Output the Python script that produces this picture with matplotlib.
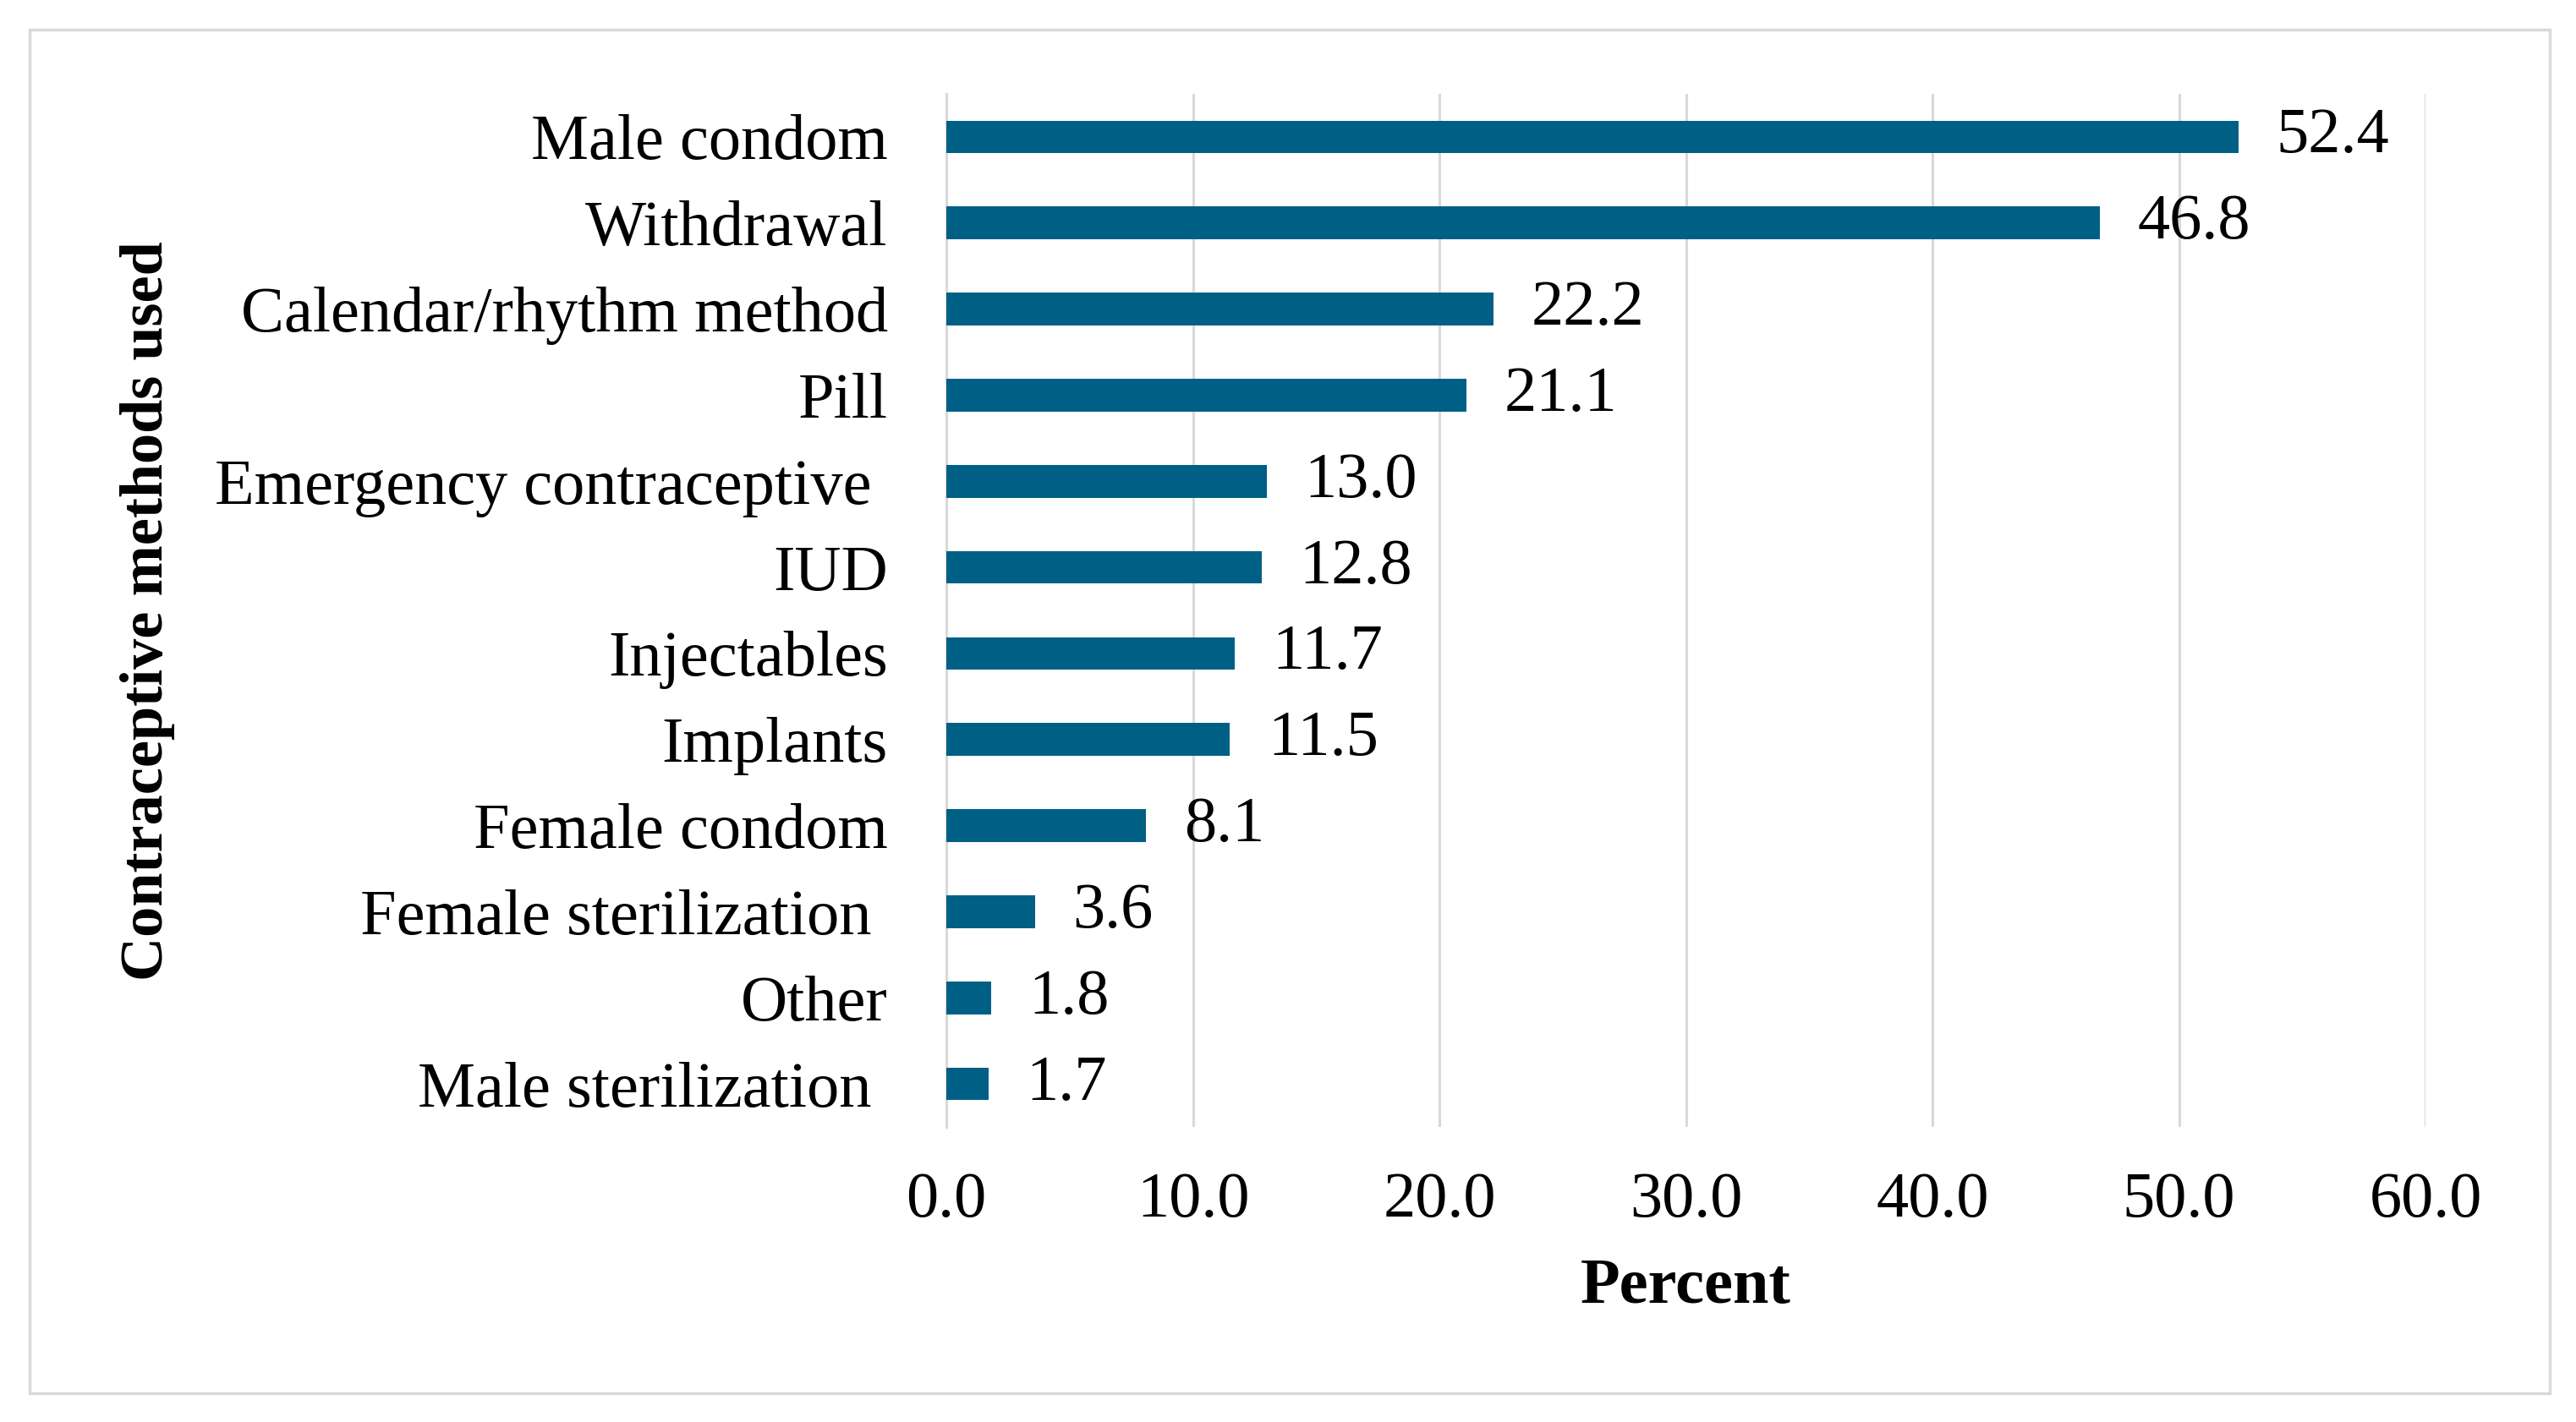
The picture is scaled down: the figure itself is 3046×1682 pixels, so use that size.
import matplotlib
matplotlib.use("Agg")
import matplotlib.pyplot as plt
from matplotlib.patches import Rectangle

# data (top to bottom)
methods = ["Male condom", "Withdrawal", "Calendar/rhythm method", "Pill",
           "Emergency contraceptive ", "IUD", "Injectables", "Implants",
           "Female condom", "Female sterilization ", "Other", "Male sterilization "]
percent = [52.4, 46.8, 22.2, 21.1, 13.0, 12.8, 11.7, 11.5, 8.1, 3.6, 1.8, 1.7]
xticks = [0, 10, 20, 30, 40, 50, 60]

plt.rcParams['font.family'] = ['Liberation Serif', 'DejaVu Serif']
fs = 55

fig = plt.figure(figsize=(30.46, 16.82), dpi=100)
ax = fig.add_axes([0.3674, 0.2075, 0.5742, 0.7265])

ypos = list(range(len(methods)))
bars = ax.barh(ypos, percent, height=0.38, color="#005F85", zorder=3)
ax.set_ylim(len(methods) - 0.5, -0.5)
ax.set_xlim(0, 60)

ax.set_yticks(ypos)
ax.set_yticklabels(methods, fontsize=fs)
ax.set_xticks(xticks)
ax.set_xticklabels(["%.1f" % t for t in xticks], fontsize=fs)
ax.tick_params(axis='y', length=0, pad=50)
ax.tick_params(axis='x', length=0, pad=38)

ax.bar_label(bars, labels=["%.1f" % v for v in percent], padding=32, fontsize=fs)

ax.grid(axis='x', color="#D9D9D9", linewidth=2.2, zorder=0)
for s in ["top", "right", "bottom"]:
    ax.spines[s].set_visible(False)
ax.spines["left"].set_color("#D9D9D9")
ax.spines["left"].set_linewidth(2.2)

ax.set_xlabel("Percent", fontsize=fs, fontweight='bold', labelpad=24)
fig.text(175 / 3046, 1 - 723 / 1682, "Contraceptive methods used", fontsize=52,
         fontweight='bold', rotation=90, ha='center', va='center')

# light frame round the whole chart
fig.patches.append(Rectangle((35 / 3046, 1 - 1648 / 1682), 2980 / 3046, 1613 / 1682,
                             transform=fig.transFigure, fill=False,
                             edgecolor="#D9D9D9", linewidth=2.5))

fig.savefig("out.png", dpi=100)
